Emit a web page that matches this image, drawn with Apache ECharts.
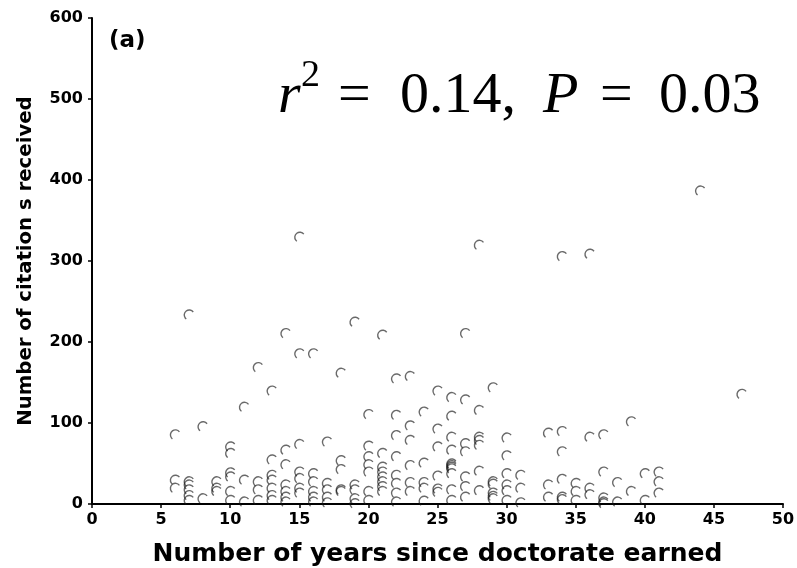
<!DOCTYPE html>
<html>
<head>
<meta charset="utf-8">
<script src="https://cdn.jsdelivr.net/npm/echarts@6/dist/echarts.min.js"></script>
<style>html,body{margin:0;padding:0;background:#fff}#c{width:797px;height:568px}</style>
</head>
<body>
<div id="c"></div>
<script>
// Years since doctorate (x) and citations received (y)
var years = [
  6,6,6,
  7,7,7,7,7,7,
  8,8,
  9,9,9,
  10,10,10,10,10,10,
  11,11,11,
  12,12,12,12,
  13,13,13,13,13,13,13,
  14,14,14,14,14,14,14,
  15,15,15,15,15,15,15,
  16,16,16,16,16,16,
  17,17,17,17,17,
  18,18,18,18,18,
  19,19,19,19,19,
  20,20,20,20,20,20,20,
  21,21,21,21,21,21,21,21,
  22,22,22,22,22,22,22,22,
  23,23,23,23,23,23,
  24,24,24,24,24,
  25,25,25,25,25,25,
  26,26,26,26,26,26,26,26,26,26,26,
  27,27,27,27,27,27,27,
  28,28,28,28,28,28,28,
  29,29,29,29,29,29,
  30,30,30,30,30,30,
  31,31,31,
  33,33,33,
  34,34,34,34,34,34,
  35,35,35,
  36,36,36,36,
  37,37,37,37,37,
  38,38,
  39,39,
  40,40,
  41,41,41,
  44,
  47
];
var citations = [
  86,30,20,
  234,28,24,18,11,5,
  96,7,
  28,20,16,
  71,63,39,34,16,5,
  120,30,3,
  169,28,18,5,
  140,55,36,30,20,11,5,
  211,67,49,24,16,9,3,
  330,186,74,40,32,20,14,
  186,38,28,16,9,3,
  77,26,18,9,2,
  162,54,43,18,16,
  225,24,18,7,1,
  111,72,59,49,40,16,5,
  209,63,46,40,34,28,22,16,
  155,110,85,59,36,26,14,3,
  158,97,79,48,27,16,
  114,51,27,20,4,
  140,93,71,35,19,15,
  132,109,83,67,50,48,46,44,38,18,5,
  211,129,75,65,34,22,9,
  320,116,83,79,73,41,17,
  144,28,25,14,10,7,
  82,60,38,24,17,5,
  36,20,2,
  88,24,9,
  306,90,65,31,9,6,
  26,16,5,
  309,83,20,12,
  86,40,8,3,1,
  27,3,
  102,16,
  38,5,
  40,28,14,
  387,
  136
];
var xTicks = [0,5,10,15,20,25,30,35,40,45,50];
var yTicks = [0,100,200,300,400,500,600];

var points = years.map(function (x, i) { return [x, citations[i]]; });

var chart = echarts.init(document.getElementById('c'), null, {renderer: 'canvas'});
var sans = 'DejaVu Sans';
chart.setOption({
  animation: false,
  backgroundColor: '#fff',
  grid: {left: 92, right: 14, top: 18, bottom: 64, containLabel: false, outerBoundsMode: 'none'},
  xAxis: {
    type: 'value', min: xTicks[0], max: xTicks[xTicks.length - 1], interval: 5,
    name: 'Number of years since doctorate earned',
    nameLocation: 'middle', nameGap: 38,
    nameTextStyle: {fontFamily: sans, fontWeight: 'bold', fontSize: 25, color: '#000'},
    axisLine: {lineStyle: {color: '#000', width: 2}},
    axisTick: {show: true, length: 4, lineStyle: {color: '#000', width: 1.5}},
    axisLabel: {fontFamily: sans, fontWeight: 'bold', fontSize: 16, color: '#000', margin: 8},
    splitLine: {show: false}
  },
  yAxis: {
    type: 'value', min: yTicks[0], max: yTicks[yTicks.length - 1], interval: 100,
    name: 'Number of citation s received',
    nameLocation: 'middle', nameGap: 56, nameRotate: 90,
    nameTextStyle: {fontFamily: sans, fontWeight: 'bold', fontSize: 19.7, color: '#000'},
    axisLine: {show: true, lineStyle: {color: '#000', width: 2}},
    axisTick: {show: true, length: 4, lineStyle: {color: '#000', width: 1.5}},
    axisLabel: {fontFamily: sans, fontWeight: 'bold', fontSize: 16, color: '#000', margin: 9},
    splitLine: {show: false}
  },
  series: [{
    type: 'scatter',
    data: points,
    symbol: 'path://M8.5,1.5 A5,5 0 1,0 1.5,8.5',
    symbolSize: 9,
    itemStyle: {color: 'none', borderColor: 'rgba(20,20,20,0.8)', borderWidth: 1.4}
  }],
  graphic: [
    {type: 'text', x: 109, y: 41, style: {text: '(a)', font: 'bold 23px "DejaVu Sans"', fill: '#000', verticalAlign: 'middle'}},
    {type: 'text', x: 278, y: 97, style: {text: 'r', font: 'italic 58px "Liberation Serif"', fill: '#000', verticalAlign: 'middle'}},
    {type: 'text', x: 301, y: 76, style: {text: '2', font: '38px "Liberation Serif"', fill: '#000', verticalAlign: 'middle'}},
    {type: 'text', x: 338, y: 97, style: {text: '=', font: '58px "Liberation Serif"', fill: '#000', verticalAlign: 'middle'}},
    {type: 'text', x: 400, y: 97, style: {text: '0.14,', font: '58px "Liberation Serif"', fill: '#000', verticalAlign: 'middle'}},
    {type: 'text', x: 543, y: 97, style: {text: 'P', font: 'italic 58px "Liberation Serif"', fill: '#000', verticalAlign: 'middle'}},
    {type: 'text', x: 600, y: 97, style: {text: '=', font: '58px "Liberation Serif"', fill: '#000', verticalAlign: 'middle'}},
    {type: 'text', x: 659, y: 97, style: {text: '0.03', font: '58px "Liberation Serif"', fill: '#000', verticalAlign: 'middle'}}
  ]
});
</script>
</body>
</html>
